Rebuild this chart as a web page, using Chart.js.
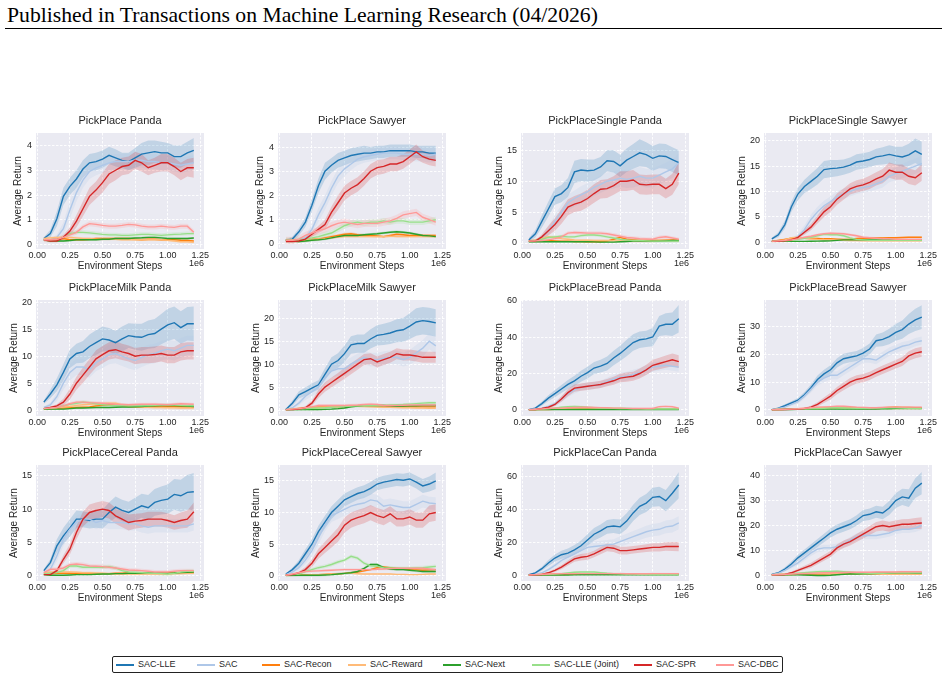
<!DOCTYPE html>
<html>
<head>
<meta charset="utf-8">
<script src="https://cdn.jsdelivr.net/npm/chart.js@4.4.1/dist/chart.umd.min.js"></script>
<style>
  html,body{margin:0;padding:0;background:#fff;}
  body{width:948px;height:680px;position:relative;overflow:hidden;font-family:"Liberation Sans",Arial,sans-serif;}
  #hdr{position:absolute;left:7px;top:5px;font-family:"Liberation Serif","Times New Roman",serif;font-size:21px;line-height:1;color:#000;white-space:nowrap;}
  #rule{position:absolute;left:5px;top:28px;width:937px;height:1px;background:#000;}
  canvas.panel{position:absolute;}
  #legend{position:absolute;left:112px;top:656px;width:669px;height:15px;border:1px solid #222;border-radius:2px;background:#fff;}
  .li{position:absolute;top:0;height:15px;}
  .ll{position:absolute;top:7px;width:18px;height:1.5px;}
  .lt{position:absolute;top:1px;font-size:9px;line-height:13px;color:#262626;white-space:nowrap;}
</style>
</head>
<body>
<div id="hdr">Published in Transactions on Machine Learning Research (04/2026)</div>
<div id="rule"></div>
<div id="legend"></div>
<script>
// ---------------- data ----------------
const steps = [0.05,0.10,0.15,0.20,0.25,0.30,0.35,0.40,0.45,0.50,0.55,0.60,0.65,0.70,0.75,0.80,0.85,0.90,0.95,1.00,1.05,1.10,1.15,1.20];
const seriesNames = ['SAC-LLE','SAC','SAC-Recon','SAC-Reward','SAC-Next','SAC-LLE (Joint)','SAC-SPR','SAC-DBC'];
const seriesColors = ['#1f77b4','#aec7e8','#ff7f0e','#ffbb78','#2ca02c','#98df8a','#d62728','#ff9896'];
const titles = ['PickPlace Panda','PickPlace Sawyer','PickPlaceSingle Panda','PickPlaceSingle Sawyer',
  'PickPlaceMilk Panda','PickPlaceMilk Sawyer','PickPlaceBread Panda','PickPlaceBread Sawyer',
  'PickPlaceCereal Panda','PickPlaceCereal Sawyer','PickPlaceCan Panda','PickPlaceCan Sawyer'];
const xTicks = [0,0.25,0.5,0.75,1.0,1.25];
const yTicks = [[0,1,2,3,4],[0,1,2,3,4],[0,5,10,15],[0,5,10,15,20],[0,5,10,15,20],[0,5,10,15,20],
  [0,20,40,60],[0,10,20,30],[0,5,10,15],[0,5,10,15],[0,20,40,60],[0,10,20,30,40]];
const yLimits = [[-0.17,4.5],[-0.21,4.58],[-0.97,17.8],[-1.3,21.5],[-1.07,20.4],[-1.3,24.0],
  [-3.3,60.3],[-2.2,39.7],[-0.75,16.6],[-0.8,17.5],[-3.5,67.2],[-2.3,44.3]];
const xLimits = [-0.01,1.278];

// 1 PickPlace Panda
const c1_lle=[0.25,0.45,1.05,1.95,2.35,2.65,3.05,3.3,3.35,3.45,3.6,3.5,3.4,3.35,3.5,3.65,3.7,3.75,3.7,3.7,3.55,3.55,3.7,3.8];
const c1_lle_sd=[0.05,0.15,0.3,0.35,0.35,0.35,0.35,0.35,0.35,0.35,0.35,0.35,0.3,0.35,0.4,0.45,0.5,0.45,0.45,0.4,0.45,0.45,0.45,0.5];
const c1_sac=[0.2,0.2,0.3,0.65,1.4,2.1,2.6,2.95,3.1,3.2,3.3,3.35,3.35,3.35,3.4,3.4,3.35,3.35,3.3,3.3,3.25,3.2,3.25,3.3];
const c1_sac_sd=[0.05,0.05,0.1,0.25,0.35,0.35,0.3,0.3,0.3,0.3,0.3,0.3,0.3,0.3,0.3,0.3,0.3,0.3,0.3,0.3,0.3,0.3,0.3,0.3];
const c1_recon=[0.2,0.2,0.22,0.25,0.2,0.2,0.2,0.22,0.25,0.25,0.25,0.25,0.25,0.25,0.22,0.2,0.22,0.22,0.2,0.2,0.2,0.18,0.17,0.15];
const c1_reward=[0.25,0.28,0.3,0.3,0.3,0.28,0.25,0.25,0.22,0.22,0.22,0.22,0.2,0.2,0.2,0.2,0.2,0.2,0.2,0.18,0.15,0.12,0.12,0.1];
const c1_next=[0.2,0.15,0.15,0.15,0.17,0.2,0.2,0.2,0.2,0.22,0.22,0.25,0.25,0.25,0.27,0.28,0.3,0.3,0.28,0.25,0.25,0.25,0.25,0.27];
const c1_joint=[0.2,0.17,0.17,0.3,0.45,0.5,0.5,0.48,0.45,0.42,0.4,0.4,0.38,0.38,0.4,0.42,0.42,0.4,0.38,0.4,0.42,0.43,0.45,0.45];
const c1_spr=[0.2,0.15,0.15,0.3,0.55,0.95,1.45,1.95,2.2,2.5,2.85,3.0,3.15,3.2,3.4,3.3,3.1,3.2,3.3,3.3,3.15,2.95,3.1,3.1];
const c1_spr_sd=[0.05,0.05,0.05,0.1,0.15,0.25,0.3,0.35,0.35,0.4,0.4,0.4,0.35,0.35,0.35,0.35,0.3,0.3,0.35,0.35,0.35,0.35,0.35,0.4];
const c1_dbc=[0.2,0.2,0.22,0.3,0.4,0.5,0.72,0.85,0.82,0.78,0.75,0.75,0.78,0.82,0.8,0.75,0.72,0.72,0.75,0.72,0.7,0.75,0.75,0.5];
const c1_minor=[0.05,0.05,0.04,0.08,0.1];

// 2 PickPlace Sawyer
const c2_lle=[0.15,0.2,0.5,0.9,1.6,2.4,3.0,3.25,3.45,3.55,3.65,3.7,3.75,3.75,3.8,3.8,3.85,3.85,3.85,3.85,3.8,3.8,3.75,3.75];
const c2_lle_sd=[0.05,0.1,0.15,0.2,0.25,0.3,0.35,0.3,0.3,0.3,0.3,0.3,0.3,0.25,0.25,0.25,0.25,0.25,0.25,0.25,0.25,0.25,0.3,0.3];
const c2_sac=[0.15,0.15,0.18,0.25,0.6,1.2,1.7,2.3,2.8,3.1,3.3,3.5,3.6,3.65,3.7,3.75,3.75,3.75,3.7,3.7,3.7,3.7,3.65,3.7];
const c2_sac_sd=[0.05,0.05,0.05,0.1,0.2,0.3,0.3,0.3,0.3,0.3,0.25,0.25,0.25,0.25,0.25,0.25,0.25,0.25,0.25,0.25,0.3,0.3,0.3,0.3];
const c2_recon=[0.15,0.15,0.15,0.15,0.18,0.2,0.25,0.3,0.35,0.4,0.42,0.38,0.35,0.35,0.33,0.3,0.35,0.4,0.38,0.35,0.35,0.35,0.35,0.35];
const c2_reward=[0.15,0.15,0.15,0.17,0.18,0.2,0.22,0.25,0.28,0.3,0.3,0.3,0.3,0.3,0.3,0.3,0.32,0.3,0.3,0.3,0.3,0.3,0.3,0.3];
const c2_next=[0.15,0.12,0.1,0.12,0.15,0.17,0.2,0.25,0.3,0.35,0.35,0.35,0.38,0.4,0.42,0.45,0.48,0.5,0.48,0.45,0.4,0.35,0.33,0.3];
const c2_joint=[0.15,0.15,0.17,0.2,0.25,0.3,0.38,0.45,0.6,0.75,0.85,0.9,0.85,0.9,0.9,0.95,0.9,0.95,0.95,0.9,0.9,0.9,0.95,1.0];
const c2_spr=[0.1,0.1,0.12,0.2,0.4,0.6,0.8,1.3,1.7,2.1,2.3,2.45,2.7,3.0,3.15,3.2,3.3,3.3,3.4,3.6,3.8,3.6,3.5,3.45];
const c2_spr_sd=[0.03,0.03,0.05,0.08,0.1,0.15,0.2,0.25,0.3,0.3,0.3,0.3,0.3,0.3,0.3,0.3,0.3,0.3,0.3,0.3,0.3,0.25,0.25,0.25];
const c2_dbc=[0.15,0.15,0.2,0.35,0.45,0.55,0.62,0.75,0.85,0.9,0.85,0.8,0.85,0.85,0.85,0.9,0.95,1.05,1.2,1.25,1.3,1.1,1.0,0.9];
const c2_minor=[0.06,0.05,0.05,0.12,0.15];

// 3 PickPlaceSingle Panda
const c3_lle=[0.5,1.5,3.5,5.5,7.5,8.0,9.0,11.5,11.8,11.7,11.8,12.3,13.3,13.2,12.5,13.4,14.0,14.6,14.3,13.7,14.1,14.0,13.5,13.0];
const c3_lle_sd=[0.3,0.6,1.0,1.2,1.3,1.4,1.5,1.8,1.8,1.8,1.7,1.6,1.7,1.8,1.8,1.9,2.0,2.2,2.0,2.0,2.0,2.0,2.0,2.0];
const c3_sac=[0.3,0.4,0.8,2.0,3.5,5.0,6.5,7.2,7.8,8.3,9.0,9.5,10.0,10.2,10.5,10.3,10.5,10.8,10.5,10.5,11.0,11.5,12.0,13.0];
const c3_sac_sd=[0.1,0.2,0.4,0.7,1.0,1.2,1.3,1.3,1.4,1.4,1.4,1.4,1.4,1.4,1.4,1.4,1.5,1.5,1.5,1.5,1.5,1.5,1.5,1.5];
const c3_recon=[0.3,0.3,0.35,0.4,0.35,0.3,0.3,0.25,0.25,0.2,0.2,0.2,0.3,0.6,0.9,0.6,0.5,0.4,0.4,0.4,0.4,0.45,0.5,0.5];
const c3_reward=[0.3,0.5,0.8,1.0,0.9,0.7,0.6,0.5,0.45,0.45,0.4,0.4,0.4,0.35,0.35,0.3,0.3,0.3,0.3,0.3,0.35,0.35,0.4,0.4];
const c3_next=[0.2,0.2,0.2,0.2,0.2,0.2,0.2,0.2,0.2,0.2,0.18,0.15,0.15,0.15,0.2,0.25,0.3,0.3,0.3,0.3,0.3,0.35,0.4,0.4];
const c3_joint=[0.3,0.4,0.6,0.9,1.0,1.1,1.0,1.0,1.2,1.3,1.3,1.2,1.0,0.8,0.6,0.5,0.4,0.4,0.35,0.3,0.3,0.3,0.3,0.3];
const c3_spr=[0.3,0.3,1.0,2.0,3.0,4.3,5.8,6.3,6.6,7.2,8.0,8.7,8.8,9.3,10.0,10.0,10.2,9.5,9.4,9.5,9.5,8.8,9.5,11.3];
const c3_spr_sd=[0.1,0.1,0.4,0.8,1.0,1.2,1.3,1.3,1.4,1.4,1.5,1.5,1.5,1.5,1.6,1.6,1.6,1.6,1.6,1.6,1.6,1.6,1.7,1.8];
const c3_dbc=[0.3,0.35,0.4,0.5,0.7,1.0,1.6,1.7,1.65,1.6,1.6,1.6,1.5,1.3,1.1,0.9,0.8,0.7,0.65,0.6,0.9,1.0,0.8,0.6];
const c3_minor=[0.15,0.2,0.1,0.25,0.3];

// 4 PickPlaceSingle Sawyer
const c4_lle=[0.7,1.5,3.5,7.0,9.5,11.0,12.0,13.0,14.3,14.5,14.6,14.8,15.2,15.8,16.0,16.3,16.8,17.0,17.3,17.0,16.8,17.2,18.0,17.3];
const c4_lle_sd=[0.2,0.5,0.8,1.0,1.2,1.3,1.5,1.6,1.7,1.7,1.6,1.5,1.5,1.5,1.5,1.5,1.6,1.7,1.8,1.8,2.0,2.2,2.4,2.5];
const c4_sac=[0.2,0.2,0.3,0.5,1.2,2.5,4.5,6.0,7.2,8.0,9.0,9.6,10.0,10.5,10.8,11.0,11.5,12.0,13.0,13.5,14.0,14.5,15.0,15.5];
const c4_sac_sd=[0.05,0.1,0.1,0.2,0.5,0.8,1.0,1.0,1.0,1.0,1.0,1.0,1.0,1.0,1.0,1.0,1.1,1.2,1.2,1.3,1.4,1.5,1.5,1.5];
const c4_recon=[0.2,0.4,0.6,0.8,0.8,0.8,0.75,0.75,0.7,0.7,0.65,0.6,0.65,0.75,0.8,0.8,0.85,0.85,0.9,0.9,0.95,1.0,1.0,1.0];
const c4_reward=[0.2,0.3,0.5,0.9,1.0,0.8,0.7,0.6,0.55,0.5,0.45,0.4,0.35,0.35,0.3,0.3,0.3,0.3,0.3,0.3,0.3,0.3,0.3,0.3];
const c4_next=[0.2,0.2,0.2,0.2,0.2,0.2,0.22,0.25,0.28,0.3,0.4,0.5,0.5,0.5,0.5,0.5,0.5,0.5,0.5,0.5,0.5,0.5,0.5,0.5];
const c4_joint=[0.2,0.25,0.3,0.4,0.6,0.8,1.0,1.3,1.6,1.5,1.5,1.3,0.9,0.6,0.5,0.4,0.4,0.4,0.4,0.4,0.4,0.4,0.4,0.4];
const c4_spr=[0.2,0.2,0.3,0.5,1.0,2.0,3.0,4.5,6.0,7.0,8.5,9.5,10.5,11.0,11.3,11.8,12.5,13.0,14.2,13.8,13.8,13.0,12.7,13.7];
const c4_spr_sd=[0.05,0.05,0.1,0.2,0.3,0.5,0.6,0.8,1.0,1.0,1.1,1.1,1.1,1.2,1.2,1.3,1.3,1.4,1.5,1.5,1.5,1.5,1.5,1.6];
const c4_dbc=[0.2,0.3,0.4,0.5,0.7,1.0,1.2,1.5,1.7,1.8,1.75,1.7,1.5,1.3,1.0,0.9,0.8,0.7,0.7,0.6,0.6,0.6,0.6,0.6];
const c4_minor=[0.15,0.15,0.1,0.25,0.25];

// 5 PickPlaceMilk Panda
const c5_lle=[1.5,3.0,4.7,7.0,9.5,10.5,10.8,11.8,12.5,13.2,13.0,12.5,13.2,13.8,13.6,13.5,14.0,14.2,15.0,15.8,16.2,15.3,16.0,16.0];
const c5_lle_sd=[0.3,0.8,1.2,1.5,1.7,1.8,2.0,2.2,2.3,2.3,2.2,2.2,2.3,2.3,2.4,2.5,2.6,2.7,2.8,3.0,3.0,3.0,3.1,3.2];
const c5_sac=[0.5,1.0,2.5,5.0,7.0,8.0,8.0,7.5,8.8,9.5,10.3,10.5,10.0,9.5,9.2,9.8,10.3,10.5,11.0,11.3,11.0,11.5,12.0,12.0];
const c5_sac_sd=[0.2,0.4,0.8,1.2,1.5,1.5,1.5,1.5,1.6,1.7,1.8,1.8,1.8,1.8,1.8,1.8,1.8,1.8,1.8,1.8,1.8,1.8,1.8,1.8];
const c5_recon=[0.3,0.3,0.35,0.4,0.45,0.5,0.55,0.6,0.8,0.9,1.0,1.0,0.85,0.7,0.65,0.6,0.6,0.65,0.7,0.7,0.65,0.65,0.6,0.6];
const c5_reward=[0.3,0.35,0.45,0.6,0.7,0.9,1.0,1.1,1.2,1.2,1.3,1.3,1.0,0.8,0.7,0.6,0.55,0.5,0.5,0.45,0.45,0.4,0.4,0.4];
const c5_next=[0.2,0.2,0.2,0.2,0.3,0.4,0.4,0.45,0.5,0.5,0.5,0.55,0.6,0.6,0.65,0.7,0.75,0.8,0.85,0.9,0.85,0.8,0.75,0.7];
const c5_joint=[0.3,0.4,0.5,0.8,1.1,1.3,1.5,1.4,1.2,1.0,0.95,0.9,0.85,0.8,0.8,0.8,0.85,0.9,0.95,1.0,0.95,0.9,0.85,0.8];
const c5_spr=[0.3,0.5,0.8,1.5,3.0,5.0,6.5,8.0,9.5,10.3,11.0,11.2,10.8,10.5,10.0,10.2,10.2,10.3,10.5,10.2,10.2,10.8,11.0,11.0];
const c5_spr_sd=[0.1,0.2,0.3,0.6,1.0,1.2,1.4,1.5,1.6,1.6,1.6,1.6,1.5,1.5,1.5,1.5,1.5,1.5,1.5,1.5,1.5,1.6,1.6,1.6];
const c5_dbc=[0.3,0.4,0.5,0.8,1.2,1.5,1.5,1.4,1.35,1.3,1.2,1.1,1.05,1.0,1.05,1.1,1.1,1.1,1.05,1.0,1.1,1.2,1.15,1.1];
const c5_minor=[0.2,0.3,0.15,0.3,0.3];

// 6 PickPlaceMilk Sawyer
const c6_lle=[0.1,1.5,3.3,4.0,4.8,5.5,7.8,10.0,10.8,12.3,14.2,14.5,14.5,15.5,16.3,16.5,16.8,17.3,17.5,18.3,19.2,19.5,19.3,19.0];
const c6_lle_sd=[0.1,0.6,0.8,0.9,1.0,1.0,1.3,1.5,1.6,1.8,1.9,2.0,2.0,2.1,2.2,2.3,2.4,2.5,2.6,2.8,3.0,3.0,3.0,3.0];
const c6_sac=[0.1,0.5,1.5,3.0,4.0,5.0,7.0,8.5,9.0,9.0,10.0,10.8,11.5,11.0,11.0,11.3,11.5,11.5,11.0,11.5,12.5,13.5,15.0,14.0];
const c6_sac_sd=[0.05,0.2,0.5,0.8,1.0,1.1,1.3,1.4,1.5,1.5,1.5,1.5,1.5,1.5,1.5,1.5,1.5,1.5,1.5,1.6,1.7,1.8,1.8,1.8];
const c6_recon=[0.1,0.2,0.35,0.5,0.55,0.6,0.65,0.7,0.75,0.8,0.85,0.9,0.9,0.9,0.85,0.8,0.8,0.75,0.7,0.7,0.7,0.7,0.7,0.7];
const c6_reward=[0.1,0.2,0.3,0.4,0.45,0.5,0.6,0.7,0.7,0.75,0.8,0.8,0.75,0.7,0.65,0.6,0.6,0.55,0.5,0.5,0.45,0.45,0.4,0.4];
const c6_next=[0.1,0.1,0.1,0.1,0.1,0.1,0.15,0.2,0.3,0.45,0.7,0.85,1.0,1.0,1.0,1.0,0.9,0.8,0.85,0.9,0.95,1.0,1.0,1.0];
const c6_joint=[0.1,0.15,0.2,0.3,0.4,0.45,0.5,0.6,0.7,0.8,0.85,0.9,0.95,1.0,1.0,1.0,1.1,1.15,1.2,1.3,1.4,1.5,1.6,1.6];
const c6_spr=[0.1,0.1,0.2,0.5,1.5,3.5,5.0,6.0,7.0,8.0,9.0,10.0,11.0,11.2,10.5,11.0,11.5,12.3,12.0,12.0,11.8,11.5,11.5,11.5];
const c6_spr_sd=[0.05,0.05,0.1,0.3,0.6,0.9,1.0,1.1,1.1,1.2,1.2,1.2,1.2,1.2,1.2,1.2,1.2,1.2,1.2,1.2,1.2,1.2,1.2,1.2];
const c6_dbc=[0.1,0.2,0.3,0.5,0.7,1.0,1.0,1.0,1.0,1.0,1.05,1.1,1.2,1.3,1.2,1.0,1.0,1.0,1.05,1.1,1.1,1.1,1.1,1.1];
const c6_minor=[0.2,0.2,0.2,0.3,0.3];

// 7 PickPlaceBread Panda
const c7_lle=[0.2,1.0,3.5,6.5,9.0,11.5,14.0,16.0,18.5,20.5,23.0,24.0,25.5,28.5,31.0,34.0,37.0,38.5,39.0,40.0,46.0,47.0,47.0,50.0];
const c7_lle_sd=[0.2,0.6,1.2,1.6,2.0,2.2,2.5,2.8,3.0,3.2,3.3,3.5,3.8,4.0,4.2,4.5,4.5,4.5,4.5,5.0,5.5,6.0,6.5,7.5];
const c7_sac=[0.2,0.5,1.0,2.0,3.5,6.0,9.0,11.0,12.5,13.0,13.5,14.0,15.5,17.0,18.0,18.5,19.5,20.5,22.0,23.5,24.0,24.5,24.0,23.5];
const c7_sac_sd=[0.1,0.3,0.5,0.8,1.0,1.5,2.0,2.0,2.0,2.0,2.0,2.0,2.2,2.3,2.5,2.5,2.5,2.5,2.5,2.5,2.5,2.5,2.5,2.5];
const c7_recon=[0.2,0.2,0.3,0.3,0.4,0.4,0.5,0.5,0.5,0.5,0.5,0.5,0.5,0.5,0.5,0.5,0.5,0.5,0.5,0.5,0.5,0.5,0.5,0.5];
const c7_reward=[0.2,0.3,0.5,0.7,0.8,0.9,1.0,1.0,1.0,1.0,1.0,0.9,0.9,0.8,0.8,0.7,0.7,0.7,0.7,0.7,0.7,0.7,0.7,0.7];
const c7_next=[0.2,0.2,0.2,0.2,0.2,0.2,0.25,0.3,0.3,0.3,0.3,0.3,0.3,0.3,0.3,0.3,0.3,0.3,0.3,0.3,0.3,0.3,0.3,0.3];
const c7_joint=[0.2,0.3,0.5,0.8,1.0,1.5,1.8,2.0,1.8,1.5,1.3,1.0,1.0,0.9,0.8,0.8,0.7,0.6,0.5,0.5,0.5,0.5,0.5,0.5];
const c7_spr=[0.2,0.3,0.8,1.5,3.0,6.0,9.5,12.0,12.5,13.0,13.5,14.0,15.0,16.0,17.5,18.0,18.5,20.0,22.0,24.5,25.5,26.5,27.5,26.5];
const c7_spr_sd=[0.1,0.2,0.4,0.6,1.0,1.5,2.0,2.0,2.0,2.0,2.0,2.0,2.0,2.2,2.3,2.5,2.5,2.7,2.8,3.0,3.2,3.4,3.5,3.5];
const c7_dbc=[0.2,0.4,0.6,0.8,1.0,1.0,1.2,1.4,1.5,1.5,1.4,1.3,1.2,1.0,1.0,0.9,0.8,0.8,0.8,0.8,1.8,2.0,1.8,1.0];
const c7_minor=[0.2,0.3,0.2,0.5,0.5];

// 8 PickPlaceBread Sawyer
const c8_lle=[0.1,0.6,1.5,2.5,3.5,5.5,8.0,11.0,13.0,14.5,17.0,18.5,19.0,19.5,20.5,22.0,25.0,25.5,26.5,28.0,29.0,31.0,32.5,33.5];
const c8_lle_sd=[0.1,0.3,0.5,0.6,0.8,1.0,1.2,1.4,1.5,1.6,1.7,1.8,1.8,1.8,1.9,2.0,2.2,2.5,2.8,3.0,3.3,3.6,4.0,4.3];
const c8_sac=[0.1,0.5,1.0,2.0,3.0,5.0,7.5,10.0,11.5,12.5,12.5,14.0,15.5,17.0,18.5,18.5,18.0,19.5,21.0,22.0,23.0,23.5,24.5,25.0];
const c8_sac_sd=[0.05,0.2,0.4,0.6,0.8,1.0,1.2,1.3,1.4,1.5,1.5,1.5,1.5,1.5,1.5,1.5,1.5,1.5,1.5,1.5,1.5,1.5,1.5,1.5];
const c8_recon=[0.1,0.15,0.2,0.25,0.3,0.35,0.4,0.5,0.6,0.6,0.6,0.6,0.6,0.65,0.7,0.7,0.75,0.8,0.9,1.0,0.9,0.85,0.8,0.8];
const c8_reward=[0.1,0.15,0.2,0.3,0.4,0.5,0.55,0.6,0.6,0.6,0.6,0.55,0.55,0.5,0.5,0.5,0.5,0.5,0.5,0.5,0.5,0.5,0.5,0.5];
const c8_next=[0.1,0.1,0.15,0.15,0.2,0.2,0.25,0.3,0.3,0.3,0.3,0.3,0.3,0.3,0.3,0.35,0.35,0.4,0.4,0.45,0.45,0.5,0.5,0.5];
const c8_joint=[0.1,0.15,0.2,0.25,0.3,0.35,0.4,0.5,0.6,0.8,0.8,0.7,0.65,0.6,0.6,0.6,0.65,0.7,0.75,0.8,0.7,0.6,0.55,0.5];
const c8_spr=[0.1,0.1,0.15,0.2,0.3,0.5,1.0,2.0,3.5,5.0,7.0,8.5,10.0,11.0,11.5,12.3,13.5,14.5,15.5,16.5,17.5,19.5,20.5,21.0];
const c8_spr_sd=[0.05,0.05,0.1,0.1,0.2,0.3,0.5,0.8,1.0,1.2,1.3,1.4,1.5,1.5,1.5,1.5,1.5,1.5,1.5,1.5,1.6,1.7,1.8,1.8];
const c8_dbc=[0.1,0.15,0.2,0.3,0.4,0.6,0.8,1.0,1.1,1.2,1.3,1.3,1.2,1.0,0.9,0.8,0.8,0.9,1.0,1.0,1.0,1.0,1.0,1.0];
const c8_minor=[0.2,0.2,0.15,0.3,0.3];

// 9 PickPlaceCereal Panda
const c9_lle=[0.8,2.0,4.5,6.0,7.2,8.5,8.5,8.3,8.5,8.5,9.5,10.3,9.8,9.5,10.0,10.5,10.2,11.0,11.3,11.5,12.2,12.0,12.5,12.6];
const c9_lle_sd=[0.2,0.5,1.0,1.2,1.3,1.3,1.2,1.2,1.3,1.4,1.5,1.6,1.6,1.6,1.7,1.8,1.9,2.0,2.1,2.2,2.3,2.4,2.6,2.8];
const c9_sac=[0.5,1.0,3.0,5.5,7.0,8.0,8.5,8.5,8.0,8.3,8.0,8.0,8.0,7.8,7.8,7.5,7.3,7.5,7.5,7.5,7.5,7.5,7.5,7.8];
const c9_sac_sd=[0.2,0.4,0.8,1.0,1.0,1.0,1.0,1.0,1.0,1.0,1.0,1.0,1.0,1.0,1.0,1.0,1.0,1.0,1.0,1.0,1.0,1.0,1.0,1.0];
const c9_recon=[0.3,0.35,0.4,0.4,0.4,0.35,0.3,0.3,0.3,0.35,0.35,0.4,0.4,0.45,0.45,0.5,0.5,0.5,0.5,0.5,0.5,0.5,0.5,0.5];
const c9_reward=[0.5,0.55,0.6,0.6,0.6,0.55,0.5,0.5,0.45,0.4,0.35,0.3,0.3,0.3,0.3,0.3,0.3,0.3,0.3,0.3,0.35,0.35,0.4,0.4];
const c9_next=[0.2,0.1,0.1,0.1,0.15,0.2,0.2,0.2,0.25,0.3,0.3,0.35,0.35,0.4,0.4,0.45,0.5,0.5,0.45,0.4,0.45,0.5,0.55,0.6];
const c9_joint=[0.3,0.4,0.5,0.8,1.5,1.5,1.3,1.3,1.3,1.3,1.4,1.2,0.8,0.6,0.55,0.5,0.45,0.4,0.35,0.3,0.4,0.6,0.7,0.7];
const c9_spr=[0.2,0.2,0.8,2.5,4.0,6.5,8.5,9.5,9.8,10.0,9.8,9.0,8.5,8.0,8.2,8.3,8.5,8.5,8.5,8.3,8.0,8.3,8.5,9.6];
const c9_spr_sd=[0.1,0.1,0.3,0.6,0.8,1.0,1.1,1.2,1.2,1.2,1.2,1.2,1.2,1.2,1.1,1.1,1.1,1.1,1.1,1.1,1.1,1.2,1.3,1.4];
const c9_dbc=[0.5,1.0,1.0,1.2,1.7,1.8,1.7,1.5,1.45,1.4,1.3,1.2,1.05,0.9,0.85,0.8,0.7,0.6,0.6,0.6,0.7,0.8,0.8,0.8];
const c9_minor=[0.15,0.2,0.1,0.3,0.3];

// 10 PickPlaceCereal Sawyer
const c10_lle=[0.3,1.0,2.0,3.5,5.0,7.0,8.5,10.0,11.0,12.0,12.5,13.0,13.3,13.8,14.5,14.8,15.0,15.2,15.1,15.3,14.8,14.2,14.5,15.0];
const c10_lle_sd=[0.1,0.3,0.5,0.7,0.8,0.9,1.0,1.0,1.0,1.0,1.0,1.0,1.0,1.0,1.0,1.0,1.0,1.0,1.0,1.0,1.0,1.1,1.2,1.3];
const c10_sac=[0.2,0.6,1.3,2.5,4.0,6.0,8.0,9.5,10.0,10.5,11.0,11.3,11.5,12.0,11.8,11.0,11.2,11.0,10.8,10.8,11.3,11.8,11.5,11.4];
const c10_sac_sd=[0.1,0.2,0.4,0.6,0.8,1.0,1.0,1.0,1.0,1.0,1.0,1.0,1.0,1.0,1.0,1.0,1.0,1.0,1.0,1.0,1.0,1.0,1.0,1.0];
const c10_recon=[0.1,0.1,0.15,0.2,0.2,0.2,0.25,0.3,0.35,0.4,0.5,0.6,0.8,1.0,1.3,1.4,1.3,1.2,1.1,1.0,0.95,0.9,0.95,1.0];
const c10_reward=[0.1,0.12,0.15,0.15,0.2,0.2,0.25,0.3,0.35,0.4,0.4,0.35,0.3,0.3,0.3,0.3,0.3,0.25,0.25,0.2,0.2,0.25,0.3,0.3];
const c10_next=[0.1,0.1,0.1,0.1,0.1,0.1,0.15,0.2,0.3,0.4,0.5,0.7,1.2,1.8,1.8,1.3,1.1,1.0,1.0,0.9,0.8,0.7,0.7,0.7];
const c10_joint=[0.1,0.2,0.3,0.7,1.0,1.3,1.5,1.8,2.2,2.5,3.1,2.8,2.0,1.6,1.5,1.3,1.25,1.2,1.2,1.2,1.25,1.3,1.4,1.5];
const c10_spr=[0.1,0.2,0.5,1.0,2.0,3.5,4.5,5.5,6.5,8.0,8.8,9.2,9.5,10.0,9.5,9.2,9.8,9.0,9.0,9.3,8.8,8.8,9.8,10.0];
const c10_spr_sd=[0.05,0.1,0.2,0.4,0.6,0.8,0.9,1.0,1.1,1.2,1.2,1.2,1.2,1.2,1.2,1.2,1.2,1.2,1.2,1.2,1.2,1.2,1.3,1.3];
const c10_dbc=[0.1,0.3,0.5,0.7,0.75,0.8,0.85,0.9,0.95,1.0,1.0,1.0,1.0,1.0,1.05,1.1,1.15,1.2,1.2,1.2,1.2,1.2,1.1,1.0];
const c10_minor=[0.15,0.1,0.2,0.3,0.2];

// 11 PickPlaceCan Panda
const c11_lle=[0.3,1.5,4.0,7.5,10.5,12.5,13.5,15.5,18.0,21.5,25.0,27.0,29.5,30.0,29.5,33.0,38.0,42.0,44.0,47.5,48.0,45.5,50.0,55.0];
const c11_lle_sd=[0.2,0.6,1.2,1.8,2.2,2.5,2.8,3.0,3.2,3.5,3.8,4.0,4.2,4.3,4.5,4.8,5.0,5.2,5.5,5.8,6.0,6.5,7.0,8.0];
const c11_sac=[0.2,0.5,1.5,3.5,6.0,9.0,11.0,13.0,15.0,17.0,17.5,18.0,18.5,19.0,20.5,22.0,23.5,25.0,26.5,27.5,28.0,29.5,30.0,32.0];
const c11_sac_sd=[0.1,0.3,0.6,1.0,1.5,2.0,2.2,2.5,2.8,3.0,3.0,3.0,3.0,3.0,3.2,3.3,3.4,3.5,3.6,3.7,3.8,3.9,4.0,4.0];
const c11_recon=[0.2,0.3,0.3,0.4,0.5,0.5,0.6,0.6,0.6,0.7,0.7,0.7,0.7,0.7,0.7,0.7,0.6,0.6,0.6,0.6,0.6,0.6,0.6,0.6];
const c11_reward=[0.2,0.4,0.6,0.8,1.0,1.0,1.0,1.0,1.0,1.0,1.0,0.9,0.9,0.8,0.8,0.8,0.7,0.7,0.7,0.7,0.7,0.7,0.7,0.7];
const c11_next=[0.2,0.2,0.2,0.2,0.2,0.2,0.2,0.25,0.3,0.3,0.3,0.3,0.3,0.3,0.3,0.3,0.3,0.3,0.3,0.3,0.3,0.3,0.3,0.3];
const c11_joint=[0.2,0.3,0.4,0.6,0.8,1.0,1.4,1.8,2.0,2.0,2.0,1.6,1.2,1.0,0.9,0.8,0.7,0.6,0.6,0.5,0.5,0.5,0.5,0.5];
const c11_spr=[0.2,0.3,0.5,1.5,3.0,5.0,7.5,10.0,11.0,11.5,13.0,15.0,17.0,16.5,15.0,15.0,15.5,16.0,16.5,17.0,17.0,17.5,17.5,17.5];
const c11_spr_sd=[0.1,0.2,0.3,0.6,1.0,1.3,1.5,1.8,2.0,2.0,2.0,2.2,2.3,2.3,2.3,2.3,2.3,2.3,2.4,2.5,2.5,2.6,2.7,2.8];
const c11_dbc=[0.2,0.4,0.6,0.8,1.0,1.0,1.0,1.0,1.0,1.0,1.0,1.0,1.0,1.0,1.0,0.9,0.9,0.9,0.9,1.0,1.0,1.0,1.0,1.0];
const c11_minor=[0.3,0.4,0.2,0.6,0.5];

// 12 PickPlaceCan Sawyer
const c12_lle=[0.3,1.0,2.5,4.5,7.0,9.0,11.0,13.0,15.0,17.0,18.5,19.5,20.5,22.0,24.0,24.5,25.5,25.0,27.0,30.0,31.5,31.0,35.0,37.0];
const c12_lle_sd=[0.1,0.4,0.7,1.0,1.2,1.4,1.5,1.6,1.7,1.8,1.9,2.0,2.0,2.1,2.2,2.3,2.4,2.5,2.8,3.0,3.3,3.6,4.0,4.5];
const c12_sac=[0.2,0.8,2.0,3.5,5.0,7.0,9.0,10.5,11.0,11.0,11.5,12.5,14.0,15.5,16.0,16.0,16.0,16.5,17.0,18.0,18.5,18.5,19.0,20.0];
const c12_sac_sd=[0.1,0.3,0.5,0.8,1.0,1.2,1.3,1.3,1.3,1.3,1.3,1.3,1.4,1.4,1.5,1.5,1.5,1.5,1.5,1.5,1.5,1.5,1.6,1.6];
const c12_recon=[0.2,0.2,0.3,0.3,0.4,0.4,0.5,0.5,0.5,0.6,0.6,0.7,0.7,0.7,0.8,0.8,0.8,0.8,0.9,0.9,1.0,1.0,1.0,1.0];
const c12_reward=[0.2,0.3,0.4,0.5,0.6,0.7,0.7,0.7,0.7,0.6,0.6,0.5,0.5,0.5,0.5,0.4,0.4,0.4,0.4,0.4,0.4,0.4,0.4,0.4];
const c12_next=[0.2,0.2,0.2,0.2,0.2,0.1,0.0,-0.1,-0.1,0.0,0.2,0.4,0.5,0.5,0.6,0.6,0.7,0.8,0.9,1.0,1.1,1.0,0.9,0.9];
const c12_joint=[0.2,0.3,0.4,0.6,0.8,1.0,1.2,1.4,1.5,1.5,1.6,1.4,1.2,1.0,0.9,0.8,0.8,0.8,0.9,1.0,1.0,1.0,1.0,1.0];
const c12_spr=[0.2,0.2,0.3,1.0,2.0,3.0,4.0,5.5,7.0,8.5,11.0,12.5,13.5,15.0,16.5,18.0,19.5,20.0,19.5,20.0,20.5,20.5,20.8,21.0];
const c12_spr_sd=[0.1,0.1,0.2,0.4,0.6,0.8,1.0,1.1,1.2,1.3,1.4,1.5,1.5,1.6,1.7,1.8,1.9,2.0,2.0,2.0,2.0,2.1,2.2,2.3];
const c12_dbc=[0.2,0.3,0.4,0.5,0.6,0.7,0.8,0.9,1.0,1.0,1.1,1.1,1.2,1.2,1.2,1.2,1.3,1.3,1.3,1.3,1.4,1.4,1.4,1.4];
const c12_minor=[0.3,0.3,0.3,0.5,0.4];

// table built from the named arrays (order: LLE, SAC, Recon, Reward, Next, Joint, SPR, DBC)
const panelMeans = [
  [c1_lle,c1_sac,c1_recon,c1_reward,c1_next,c1_joint,c1_spr,c1_dbc],
  [c2_lle,c2_sac,c2_recon,c2_reward,c2_next,c2_joint,c2_spr,c2_dbc],
  [c3_lle,c3_sac,c3_recon,c3_reward,c3_next,c3_joint,c3_spr,c3_dbc],
  [c4_lle,c4_sac,c4_recon,c4_reward,c4_next,c4_joint,c4_spr,c4_dbc],
  [c5_lle,c5_sac,c5_recon,c5_reward,c5_next,c5_joint,c5_spr,c5_dbc],
  [c6_lle,c6_sac,c6_recon,c6_reward,c6_next,c6_joint,c6_spr,c6_dbc],
  [c7_lle,c7_sac,c7_recon,c7_reward,c7_next,c7_joint,c7_spr,c7_dbc],
  [c8_lle,c8_sac,c8_recon,c8_reward,c8_next,c8_joint,c8_spr,c8_dbc],
  [c9_lle,c9_sac,c9_recon,c9_reward,c9_next,c9_joint,c9_spr,c9_dbc],
  [c10_lle,c10_sac,c10_recon,c10_reward,c10_next,c10_joint,c10_spr,c10_dbc],
  [c11_lle,c11_sac,c11_recon,c11_reward,c11_next,c11_joint,c11_spr,c11_dbc],
  [c12_lle,c12_sac,c12_recon,c12_reward,c12_next,c12_joint,c12_spr,c12_dbc]
];
const panelSds = [
  [c1_lle_sd,c1_sac_sd,c1_minor[0],c1_minor[1],c1_minor[2],c1_minor[3],c1_spr_sd,c1_minor[4]],
  [c2_lle_sd,c2_sac_sd,c2_minor[0],c2_minor[1],c2_minor[2],c2_minor[3],c2_spr_sd,c2_minor[4]],
  [c3_lle_sd,c3_sac_sd,c3_minor[0],c3_minor[1],c3_minor[2],c3_minor[3],c3_spr_sd,c3_minor[4]],
  [c4_lle_sd,c4_sac_sd,c4_minor[0],c4_minor[1],c4_minor[2],c4_minor[3],c4_spr_sd,c4_minor[4]],
  [c5_lle_sd,c5_sac_sd,c5_minor[0],c5_minor[1],c5_minor[2],c5_minor[3],c5_spr_sd,c5_minor[4]],
  [c6_lle_sd,c6_sac_sd,c6_minor[0],c6_minor[1],c6_minor[2],c6_minor[3],c6_spr_sd,c6_minor[4]],
  [c7_lle_sd,c7_sac_sd,c7_minor[0],c7_minor[1],c7_minor[2],c7_minor[3],c7_spr_sd,c7_minor[4]],
  [c8_lle_sd,c8_sac_sd,c8_minor[0],c8_minor[1],c8_minor[2],c8_minor[3],c8_spr_sd,c8_minor[4]],
  [c9_lle_sd,c9_sac_sd,c9_minor[0],c9_minor[1],c9_minor[2],c9_minor[3],c9_spr_sd,c9_minor[4]],
  [c10_lle_sd,c10_sac_sd,c10_minor[0],c10_minor[1],c10_minor[2],c10_minor[3],c10_spr_sd,c10_minor[4]],
  [c11_lle_sd,c11_sac_sd,c11_minor[0],c11_minor[1],c11_minor[2],c11_minor[3],c11_spr_sd,c11_minor[4]],
  [c12_lle_sd,c12_sac_sd,c12_minor[0],c12_minor[1],c12_minor[2],c12_minor[3],c12_spr_sd,c12_minor[4]]
];

// ---------------- layout / styling ----------------
const TEXT = '#262626';
const FONT = '"Liberation Sans", Arial, Helvetica, sans-serif';
Chart.defaults.font.family = FONT;
Chart.defaults.color = TEXT;

const colLeft = [36, 278, 521, 764];
const rowTop = [133, 300, 465];
const PW = 168, PH = 116, YW = 36, TOPH = 24, XH = 24, RPAD = 10;

function rgba(hex, a){
  const n = parseInt(hex.slice(1),16);
  return `rgba(${(n>>16)&255},${(n>>8)&255},${n&255},${a})`;
}

const bgPlugin = {
  id:'plotbg',
  beforeDraw(chart){
    const {ctx, chartArea:a} = chart;
    ctx.save(); ctx.fillStyle = '#EAEAF2';
    ctx.fillRect(a.left, a.top, a.right-a.left, a.bottom-a.top);
    ctx.restore();
  }
};
const offsetPlugin = {
  id:'offsettext',
  afterDraw(chart){
    const {ctx, chartArea:a} = chart;
    ctx.save(); ctx.font = '9px ' + FONT; ctx.fillStyle = TEXT;
    ctx.textAlign = 'right'; ctx.textBaseline = 'middle';
    ctx.fillText('1e6', a.right, a.bottom + 14.7);
    ctx.restore();
  }
};

for (let k = 0; k < 12; k++){
  const r = Math.floor(k/4), c = k % 4;
  const PL = colLeft[c], PT = rowTop[r];
  const cv = document.createElement('canvas');
  cv.className = 'panel';
  cv.width = YW + PW + RPAD; cv.height = TOPH + PH + XH;
  cv.style.left = (PL - YW) + 'px'; cv.style.top = (PT - TOPH) + 'px';
  cv.style.width = cv.width + 'px'; cv.style.height = cv.height + 'px';
  document.body.appendChild(cv);

  const means = panelMeans[k], sds = panelSds[k];
  const bands = [], lines = [];
  for (let s = 0; s < 8; s++){
    const m = means[s], sd = sds[s];
    const sdAt = j => (typeof sd === 'number') ? sd : sd[j];
    bands.push({
      data: steps.map((x,j)=>({x, y: m[j] + sdAt(j)})),
      borderWidth:0, pointRadius:0, fill:'+1', backgroundColor: rgba(seriesColors[s], 0.2), order: 100 - s
    });
    bands.push({
      data: steps.map((x,j)=>({x, y: m[j] - sdAt(j)})),
      borderWidth:0, pointRadius:0, fill:false, backgroundColor:'rgba(0,0,0,0)', order: 100 - s
    });
    lines.push({
      label: seriesNames[s],
      data: steps.map((x,j)=>({x, y: m[j]})),
      borderColor: seriesColors[s], borderWidth: 1.4, pointRadius:0, fill:false, tension:0, order: 20 - s
    });
  }
  const digits = String(Math.max(...yTicks[k])).length;
  new Chart(cv, {
    type:'line',
    data:{ datasets: bands.concat(lines) },
    plugins:[bgPlugin, offsetPlugin],
    options:{
      animation:false, responsive:false, devicePixelRatio:1,
      events:[],
      layout:{padding:{left:0, right:RPAD, top:0, bottom:0}},
      plugins:{
        legend:{display:false}, tooltip:{enabled:false},
        filler:{drawTime:'beforeDatasetsDraw', propagate:false},
        title:{display:true, text:titles[k], fullSize:false, color:TEXT,
               font:{size:11, weight:'normal', family:FONT}, padding:{top:5.8, bottom:5.0}}
      },
      scales:{
        x:{
          type:'linear', min:xLimits[0], max:xLimits[1],
          afterBuildTicks: sc => { sc.ticks = xTicks.map(v=>({value:v})); },
          afterFit: sc => { sc.height = XH; sc.paddingLeft = 0; sc.paddingRight = 0; },
          ticks:{ font:{size:9}, color:TEXT, padding:1, maxRotation:0, minRotation:0, autoSkip:false,
                  callback: v => Number(v).toFixed(2) },
          grid:{ color:'#ffffff', lineWidth:0.9, drawTicks:false },
          border:{ display:false, dash:[2.5,1.5] },
          title:{ display:true, text:'Environment Steps', color:TEXT, font:{size:10}, padding:{top:0, bottom:0.6} }
        },
        y:{
          type:'linear', min:yLimits[k][0], max:yLimits[k][1],
          afterBuildTicks: sc => { sc.ticks = yTicks[k].map(v=>({value:v})); },
          afterFit: sc => { sc.width = YW; sc.paddingTop = 0; sc.paddingBottom = 0; },
          ticks:{ font:{size:9}, color:TEXT, padding:4, autoSkip:false, callback: v => String(v) },
          grid:{ color:'#ffffff', lineWidth:0.9, drawTicks:false },
          border:{ display:false, dash:[2.5,1.5] },
          title:{ display:true, text:'Average Return', color:TEXT, font:{size:10},
                  padding:{top: 12.3 - 4.5*(digits-1), bottom:0} }
        }
      }
    }
  });
}

// ---------------- legend ----------------
const legendLeft = [3, 84, 149, 235, 330, 419, 521, 603];
const leg = document.getElementById('legend');
seriesNames.forEach((name, s) => {
  const it = document.createElement('div'); it.className = 'li'; it.style.left = legendLeft[s] + 'px';
  const ln = document.createElement('div'); ln.className = 'll'; ln.style.left = '0px'; ln.style.background = seriesColors[s];
  const tx = document.createElement('div'); tx.className = 'lt'; tx.style.left = '22px'; tx.textContent = name;
  it.appendChild(ln); it.appendChild(tx); leg.appendChild(it);
});

// header width fit
const hdr = document.getElementById('hdr');
const w = hdr.getBoundingClientRect().width;
if (w > 0) hdr.style.fontSize = (21 * 591 / w) + 'px';
</script>
</body>
</html>
